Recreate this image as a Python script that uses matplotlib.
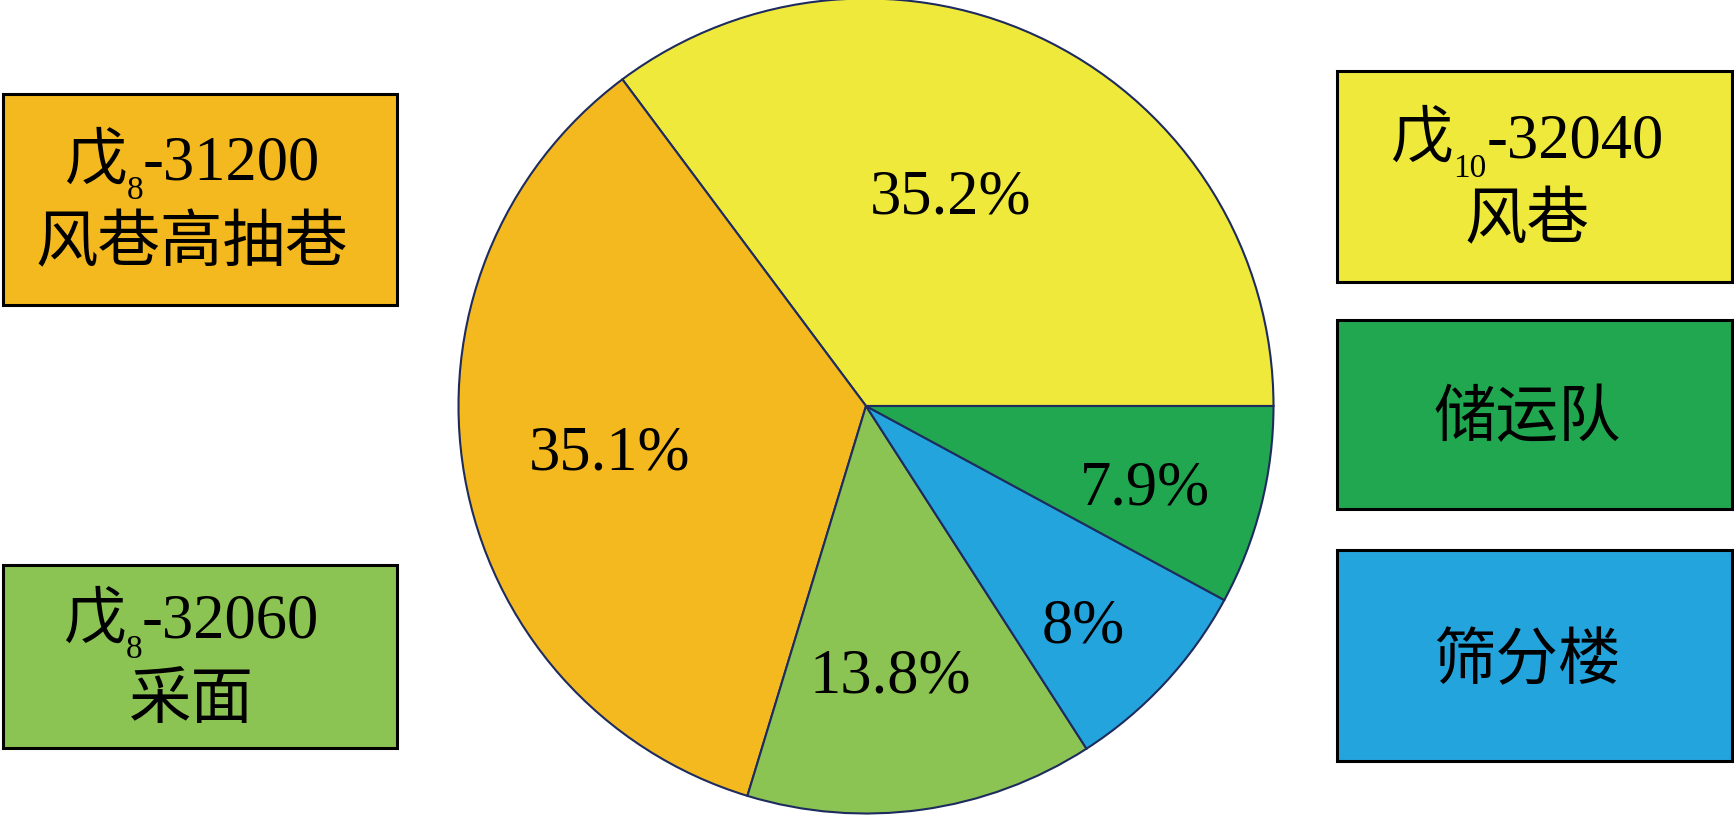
import numpy as np
import matplotlib
matplotlib.use('Agg')
import matplotlib.pyplot as plt
from matplotlib.patches import Rectangle

plt.rcParams['font.family'] = ['Liberation Serif', 'Noto Sans CJK SC', 'DejaVu Sans']

# data
shares = [35.2, 35.1, 13.8, 8.0, 7.9]
pct_labels = ['35.2%', '35.1%', '13.8%', '8%', '7.9%']
colors = ['#efe93c', '#f3b91e', '#8cc453', '#24a4dd', '#20a74f']

# legend boxes (same order as slices): head char, subscript, code, second line
box_head = ['戊', '戊', '戊', '', '']
box_sub = ['10', '8', '8', '', '']
box_code = ['-32040', '-31200', '-32060', '', '']
box_line2 = ['风巷', '风巷高抽巷', '采面', '筛分楼', '储运队']

# layout (pixels, y from top)
W, H = 1734, 816
pie_cx, pie_cy, pie_r = 866, 406, 407.5
label_dist = [0.55, 0.64, 0.67, 0.76, 0.715]
label_nudge = [4.5, 0.8, -2.8, -2.7, -2.4]
box_rect = [(1337, 71, 1732, 282), (3, 94, 397, 305), (3, 565, 397, 748),
            (1337, 550, 1732, 761), (1337, 320, 1732, 509)]
box_xc = [1527, 192, 191, 1527, 1527]
box_base1 = [157, 179, 638, None, None]
box_base2 = [238, 261, 718, 679, 436]

fig = plt.figure(figsize=(W / 100, H / 100), dpi=100)
ax = fig.add_axes([0, 0, 1, 1])

wedges, _ = ax.pie(
    shares, colors=colors, startangle=0, counterclock=True,
    center=(pie_cx, H - pie_cy), radius=pie_r,
    wedgeprops=dict(edgecolor='#1d2b5e', linewidth=1.5)
)
ax.set_xlim(0, W)
ax.set_ylim(0, H)
ax.set_aspect('equal')
ax.axis('off')

# percentage labels
for w, lab, d, nd in zip(wedges, pct_labels, label_dist, label_nudge):
    th = np.deg2rad((w.theta1 + w.theta2) / 2 + nd)
    ax.text(pie_cx + d * pie_r * np.cos(th), H - pie_cy + d * pie_r * np.sin(th),
            lab, fontsize=45, ha='center', va='center')

renderer = fig.canvas.get_renderer()


def put_run(pieces, xc, yb):
    objs = []
    for s, size, dy in pieces:
        objs.append(ax.text(0, H - yb - dy, s, fontsize=size, ha='left', va='baseline'))
    widths = [t.get_window_extent(renderer=renderer).width for t in objs]
    x = xc - sum(widths) / 2
    for t, wd in zip(objs, widths):
        t.set_x(x)
        x += wd


for i, c in enumerate(colors):
    x0, y0, x1, y1 = box_rect[i]
    ax.add_patch(Rectangle((x0, H - y1), x1 - x0, y1 - y0, facecolor=c,
                           edgecolor='black', linewidth=2.2, zorder=3))
    if box_head[i]:
        put_run([(box_head[i], 45, 0), (box_sub[i], 24, 20), (box_code[i], 45, 0)],
                box_xc[i], box_base1[i])
    put_run([(box_line2[i], 45, 0)], box_xc[i], box_base2[i])

for t in ax.texts:
    t.set_zorder(4)

fig.savefig('out.png', dpi=100)
